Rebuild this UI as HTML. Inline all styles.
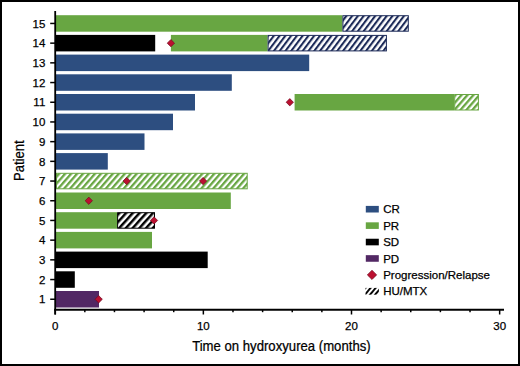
<!DOCTYPE html>
<html><head><meta charset="utf-8"><style>
html,body{margin:0;padding:0;background:#fff;}
body{width:520px;height:366px;overflow:hidden;}
svg{display:block;}
.t{font-family:"Liberation Sans",sans-serif;font-size:11.5px;fill:#000;stroke:#000;stroke-width:0.25px;}
.ti{font-family:"Liberation Sans",sans-serif;font-size:14.5px;fill:#000;stroke:#000;stroke-width:0.25px;}
</style></head><body>
<svg width="520" height="366" viewBox="0 0 520 366">
<defs>
<pattern id="hb" patternUnits="userSpaceOnUse" width="4.6" height="10" patternTransform="rotate(37)"><rect width="4.6" height="10" fill="#fff"/><rect width="2.1" height="10" fill="#1c2a58"/></pattern>
<pattern id="hg" patternUnits="userSpaceOnUse" width="4.5" height="10" patternTransform="rotate(41)"><rect width="4.5" height="10" fill="#fff"/><rect width="2.3" height="10" fill="#68a642"/></pattern>
<pattern id="hk" patternUnits="userSpaceOnUse" width="5.0" height="10" patternTransform="rotate(42)"><rect width="5.0" height="10" fill="#fff"/><rect width="2.5" height="10" fill="#000"/></pattern>
<pattern id="hl" patternUnits="userSpaceOnUse" width="3.9" height="10" patternTransform="rotate(40)"><rect width="3.9" height="10" fill="#fff"/><rect width="1.9" height="10" fill="#000"/></pattern>
</defs>
<rect x="0" y="0" width="520" height="366" fill="#fff"/>
<rect x="56.00" y="15.20" width="286.40" height="16.50" fill="#68a642"/>
<rect x="342.90" y="15.70" width="65.40" height="15.50" fill="url(#hb)" stroke="#1c2a58" stroke-width="1"/>
<rect x="56.00" y="34.90" width="99.20" height="16.50" fill="#000"/>
<rect x="170.90" y="34.90" width="96.70" height="16.50" fill="#68a642"/>
<rect x="268.10" y="35.40" width="118.30" height="15.50" fill="url(#hb)" stroke="#1c2a58" stroke-width="1"/>
<path d="M170.90 39.50L174.55 43.15L170.90 46.80L167.25 43.15Z" fill="#bb1030" stroke="#6e0a20" stroke-width="0.7"/>
<rect x="56.00" y="54.60" width="253.20" height="16.50" fill="#2d4e80"/>
<rect x="56.00" y="74.30" width="175.80" height="16.50" fill="#2d4e80"/>
<rect x="56.00" y="94.00" width="139.00" height="16.50" fill="#2d4e80"/>
<rect x="294.60" y="94.00" width="159.60" height="16.50" fill="#68a642"/>
<rect x="454.70" y="94.50" width="23.70" height="15.50" fill="url(#hg)" stroke="#68a642" stroke-width="1"/>
<path d="M289.80 98.60L293.45 102.25L289.80 105.90L286.15 102.25Z" fill="#bb1030" stroke="#6e0a20" stroke-width="0.7"/>
<rect x="56.00" y="113.70" width="117.00" height="16.50" fill="#2d4e80"/>
<rect x="56.00" y="133.40" width="88.50" height="16.50" fill="#2d4e80"/>
<rect x="56.00" y="153.10" width="51.80" height="16.50" fill="#2d4e80"/>
<rect x="56.50" y="173.30" width="190.70" height="15.50" fill="url(#hg)" stroke="#68a642" stroke-width="1"/>
<path d="M126.70 177.40L130.35 181.05L126.70 184.70L123.05 181.05Z" fill="#bb1030" stroke="#6e0a20" stroke-width="0.7"/>
<path d="M203.10 177.40L206.75 181.05L203.10 184.70L199.45 181.05Z" fill="#bb1030" stroke="#6e0a20" stroke-width="0.7"/>
<rect x="56.00" y="192.50" width="174.80" height="16.50" fill="#68a642"/>
<path d="M88.80 197.10L92.45 200.75L88.80 204.40L85.15 200.75Z" fill="#bb1030" stroke="#6e0a20" stroke-width="0.7"/>
<rect x="56.00" y="212.20" width="61.10" height="16.50" fill="#68a642"/>
<rect x="117.60" y="212.70" width="36.90" height="15.50" fill="url(#hk)" stroke="#000" stroke-width="1"/>
<path d="M154.00 216.80L157.65 220.45L154.00 224.10L150.35 220.45Z" fill="#bb1030" stroke="#6e0a20" stroke-width="0.7"/>
<rect x="56.00" y="231.90" width="96.00" height="16.50" fill="#68a642"/>
<rect x="56.00" y="251.60" width="151.70" height="16.50" fill="#000"/>
<rect x="56.00" y="271.30" width="18.80" height="16.50" fill="#000"/>
<rect x="56.00" y="291.00" width="43.00" height="16.50" fill="#522864"/>
<path d="M98.70 295.60L102.35 299.25L98.70 302.90L95.05 299.25Z" fill="#bb1030" stroke="#6e0a20" stroke-width="0.7"/>
<line x1="55.2" y1="10.9" x2="55.2" y2="314.5" stroke="#000" stroke-width="1.8"/>
<line x1="54.3" y1="309.7" x2="504" y2="309.7" stroke="#000" stroke-width="1.9"/>
<line x1="50.2" y1="299.25" x2="55" y2="299.25" stroke="#000" stroke-width="1.5"/>
<text x="45.3" y="303.45" text-anchor="end" class="t">1</text>
<line x1="50.2" y1="279.55" x2="55" y2="279.55" stroke="#000" stroke-width="1.5"/>
<text x="45.3" y="283.75" text-anchor="end" class="t">2</text>
<line x1="50.2" y1="259.85" x2="55" y2="259.85" stroke="#000" stroke-width="1.5"/>
<text x="45.3" y="264.05" text-anchor="end" class="t">3</text>
<line x1="50.2" y1="240.15" x2="55" y2="240.15" stroke="#000" stroke-width="1.5"/>
<text x="45.3" y="244.35" text-anchor="end" class="t">4</text>
<line x1="50.2" y1="220.45" x2="55" y2="220.45" stroke="#000" stroke-width="1.5"/>
<text x="45.3" y="224.65" text-anchor="end" class="t">5</text>
<line x1="50.2" y1="200.75" x2="55" y2="200.75" stroke="#000" stroke-width="1.5"/>
<text x="45.3" y="204.95" text-anchor="end" class="t">6</text>
<line x1="50.2" y1="181.05" x2="55" y2="181.05" stroke="#000" stroke-width="1.5"/>
<text x="45.3" y="185.25" text-anchor="end" class="t">7</text>
<line x1="50.2" y1="161.35" x2="55" y2="161.35" stroke="#000" stroke-width="1.5"/>
<text x="45.3" y="165.55" text-anchor="end" class="t">8</text>
<line x1="50.2" y1="141.65" x2="55" y2="141.65" stroke="#000" stroke-width="1.5"/>
<text x="45.3" y="145.85" text-anchor="end" class="t">9</text>
<line x1="50.2" y1="121.95" x2="55" y2="121.95" stroke="#000" stroke-width="1.5"/>
<text x="45.3" y="126.15" text-anchor="end" class="t">10</text>
<line x1="50.2" y1="102.25" x2="55" y2="102.25" stroke="#000" stroke-width="1.5"/>
<text x="45.3" y="106.45" text-anchor="end" class="t">11</text>
<line x1="50.2" y1="82.55" x2="55" y2="82.55" stroke="#000" stroke-width="1.5"/>
<text x="45.3" y="86.75" text-anchor="end" class="t">12</text>
<line x1="50.2" y1="62.85" x2="55" y2="62.85" stroke="#000" stroke-width="1.5"/>
<text x="45.3" y="67.05" text-anchor="end" class="t">13</text>
<line x1="50.2" y1="43.15" x2="55" y2="43.15" stroke="#000" stroke-width="1.5"/>
<text x="45.3" y="47.35" text-anchor="end" class="t">14</text>
<line x1="50.2" y1="23.45" x2="55" y2="23.45" stroke="#000" stroke-width="1.5"/>
<text x="45.3" y="27.65" text-anchor="end" class="t">15</text>
<line x1="55.20" y1="309" x2="55.20" y2="314.5" stroke="#000" stroke-width="1.5"/>
<text x="55.20" y="330.0" text-anchor="middle" class="t">0</text>
<line x1="84.83" y1="309" x2="84.83" y2="312.2" stroke="#000" stroke-width="1.5"/>
<line x1="114.46" y1="309" x2="114.46" y2="312.2" stroke="#000" stroke-width="1.5"/>
<line x1="144.09" y1="309" x2="144.09" y2="312.2" stroke="#000" stroke-width="1.5"/>
<line x1="173.72" y1="309" x2="173.72" y2="312.2" stroke="#000" stroke-width="1.5"/>
<line x1="203.35" y1="309" x2="203.35" y2="314.5" stroke="#000" stroke-width="1.5"/>
<text x="203.35" y="330.0" text-anchor="middle" class="t">10</text>
<line x1="232.98" y1="309" x2="232.98" y2="312.2" stroke="#000" stroke-width="1.5"/>
<line x1="262.61" y1="309" x2="262.61" y2="312.2" stroke="#000" stroke-width="1.5"/>
<line x1="292.24" y1="309" x2="292.24" y2="312.2" stroke="#000" stroke-width="1.5"/>
<line x1="321.87" y1="309" x2="321.87" y2="312.2" stroke="#000" stroke-width="1.5"/>
<line x1="351.50" y1="309" x2="351.50" y2="314.5" stroke="#000" stroke-width="1.5"/>
<text x="351.50" y="330.0" text-anchor="middle" class="t">20</text>
<line x1="381.13" y1="309" x2="381.13" y2="312.2" stroke="#000" stroke-width="1.5"/>
<line x1="410.76" y1="309" x2="410.76" y2="312.2" stroke="#000" stroke-width="1.5"/>
<line x1="440.39" y1="309" x2="440.39" y2="312.2" stroke="#000" stroke-width="1.5"/>
<line x1="470.02" y1="309" x2="470.02" y2="312.2" stroke="#000" stroke-width="1.5"/>
<line x1="499.65" y1="309" x2="499.65" y2="314.5" stroke="#000" stroke-width="1.5"/>
<text x="499.65" y="330.0" text-anchor="middle" class="t">30</text>
<rect x="365.8" y="205.90" width="13" height="6.6" fill="#2d4e80"/>
<text x="383.2" y="213.25" class="t">CR</text>
<rect x="365.8" y="222.32" width="13" height="6.6" fill="#68a642"/>
<text x="383.2" y="229.67" class="t">PR</text>
<rect x="365.8" y="238.74" width="13" height="6.6" fill="#000"/>
<text x="383.2" y="246.09" class="t">SD</text>
<rect x="365.8" y="255.16" width="13" height="6.6" fill="#522864"/>
<text x="383.2" y="262.51" class="t">PD</text>
<path d="M372.0 270.23L376.65 274.88L372.0 279.53L367.35 274.88Z" fill="#bb1030" stroke="#6e0a20" stroke-width="0.7"/>
<text x="383.2" y="278.93" class="t">Progression/Relapse</text>
<rect x="365.5" y="287.90" width="13.4" height="6.8" fill="url(#hl)"/>
<text x="383.2" y="295.35" class="t">HU/MTX</text>
<text class="ti" transform="translate(281.4 351.0) scale(0.908 1)" text-anchor="middle">Time on hydroxyurea (months)</text>
<text class="ti" transform="translate(23.9 160.6) rotate(-90) scale(0.90 1)" text-anchor="middle">Patient</text>
<rect x="1" y="1" width="518" height="364" fill="none" stroke="#000" stroke-width="2"/>
</svg>
</body></html>
